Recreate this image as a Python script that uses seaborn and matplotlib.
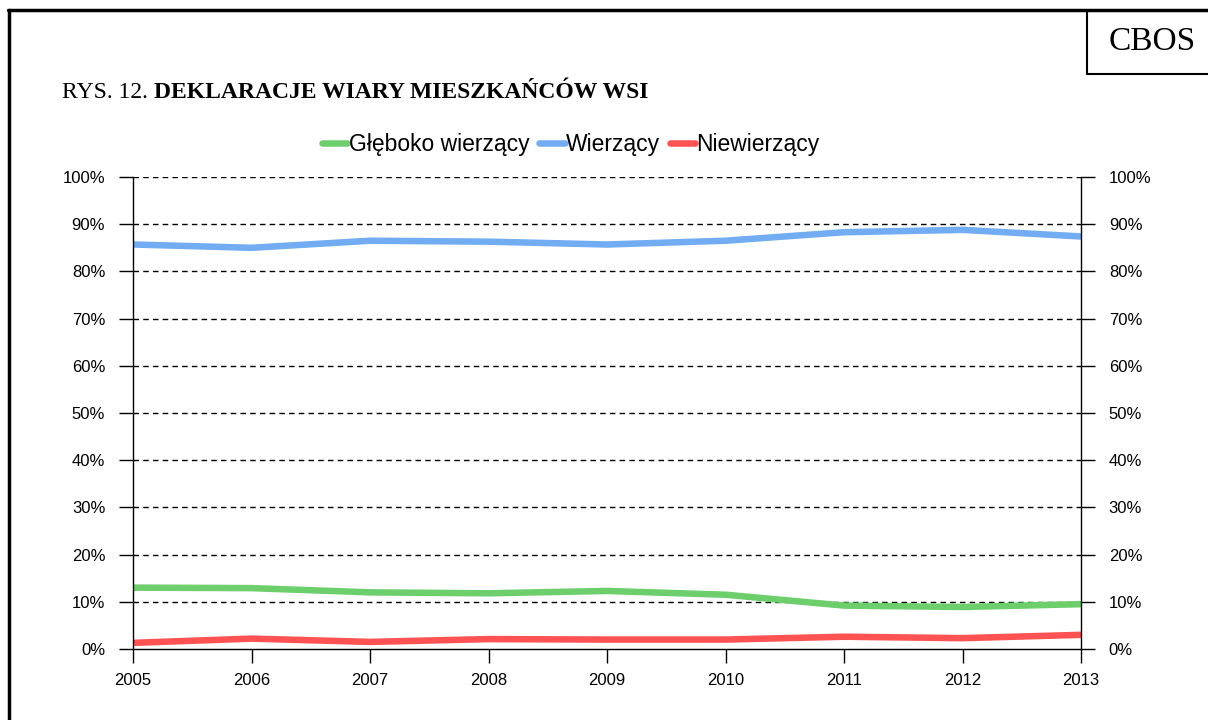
import pandas as pd
import matplotlib
matplotlib.use('Agg')
import matplotlib.pyplot as plt
import seaborn as sns
from matplotlib.ticker import PercentFormatter

# Dane (w %)
lata = [2005, 2006, 2007, 2008, 2009, 2010, 2011, 2012, 2013]
gleboko_wierzacy = [13.0, 12.9, 12.0, 11.8, 12.3, 11.5, 9.2, 8.9, 9.5]
wierzacy = [85.7, 85.0, 86.5, 86.3, 85.7, 86.5, 88.3, 88.8, 87.4]
niewierzacy = [1.3, 2.2, 1.5, 2.1, 2.0, 2.0, 2.6, 2.3, 3.0]
serie = ['Głęboko wierzący', 'Wierzący', 'Niewierzący']
kolory = ['#6CCF6C', '#72ACF2', '#FF5252']

data = pd.DataFrame({
    'Rok': lata * 3,
    'Wartosc': gleboko_wierzacy + wierzacy + niewierzacy,
    'Seria': [s for s in serie for _ in lata],
})

sns.set_theme(style='white')
plt.rcParams['font.family'] = ['Liberation Sans', 'DejaVu Sans']
plt.rcParams['text.color'] = 'black'

fig = plt.figure(figsize=(12.08, 7.2), dpi=100)
ax = fig.add_axes([133 / 1208, 1 - 649 / 720, (1081 - 133) / 1208, (649 - 177) / 720])

sns.lineplot(data=data, x='Rok', y='Wartosc', hue='Seria', hue_order=serie,
             palette=kolory, linewidth=4.7, ax=ax, legend=True)

ax.set_xlim(2005, 2013)
ax.set_ylim(0, 100)
ax.set_xticks(lata)
ax.set_yticks(range(0, 101, 10))
ax.yaxis.set_major_formatter(PercentFormatter(decimals=0))
ax.set_xlabel('')
ax.set_ylabel('')
ax.grid(False)
for y in range(10, 101, 10):
    ax.axhline(y, color='black', linestyle=(0, (4, 3)), linewidth=1, zorder=0)

for side in ['left', 'right', 'bottom']:
    ax.spines[side].set_color('black')
    ax.spines[side].set_linewidth(1)
ax.spines['top'].set_visible(False)
ax.tick_params(axis='both', direction='out', length=10, width=1, color='black',
               labelsize=12, labelcolor='black')
ax.tick_params(axis='y', left=True, right=True, labelleft=True, labelright=True, pad=10)
ax.tick_params(axis='x', bottom=True, pad=7)

leg = ax.legend(loc='center', bbox_to_anchor=(571 / 1208, 1 - 145 / 720),
                bbox_transform=fig.transFigure, ncol=3, frameon=False, fontsize=16.5,
                handlelength=1.1, handletextpad=0.05, columnspacing=0.45)
for h in leg.get_lines():
    h.set_linewidth(4.7)

# ramka i nagłówek
fig.add_artist(plt.Line2D([8 / 1208, 1], [1 - 10 / 720] * 2, color='black', lw=2.5,
                          transform=fig.transFigure))
fig.add_artist(plt.Line2D([9 / 1208] * 2, [1 - 10 / 720, 0], color='black', lw=2.5,
                          transform=fig.transFigure))
fig.add_artist(plt.Line2D([1087 / 1208] * 2, [1 - 10 / 720, 1 - 74 / 720], color='black',
                          lw=1.5, transform=fig.transFigure))
fig.add_artist(plt.Line2D([1087 / 1208, 1], [1 - 74 / 720] * 2, color='black', lw=1.5,
                          transform=fig.transFigure))
fig.text(1152 / 1208, 1 - 42 / 720, 'CBOS', ha='center', va='center', fontsize=24,
         family='Liberation Serif')

t1 = fig.text(62 / 1208, 1 - 93 / 720, 'RYS. 12. ', ha='left', va='center', fontsize=17,
              family='Liberation Serif')
fig.canvas.draw()
bb = t1.get_window_extent()
fig.text(bb.x1 / 1208, 1 - 93 / 720, 'DEKLARACJE WIARY MIESZKAŃCÓW WSI', ha='left',
         va='center', fontsize=17, family='Liberation Serif', weight='bold')

fig.savefig('out.png', dpi=100)
